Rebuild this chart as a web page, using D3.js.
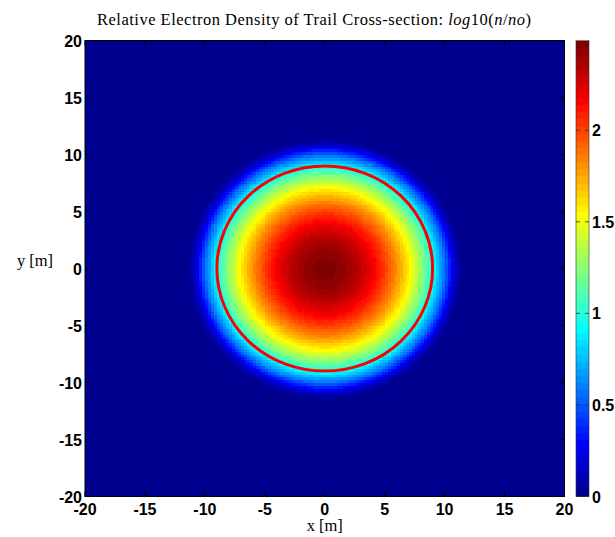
<!DOCTYPE html>
<html>
<head>
<meta charset="utf-8">
<script src="https://cdn.jsdelivr.net/npm/d3@7"></script>
<style>
  body { margin: 0; background: #fff; }
  svg { display: block; }
  .tick-label { font-family: "Liberation Sans", Arial, sans-serif; font-weight: bold; font-size: 16px; fill: #000; }
  .tex { font-family: "Liberation Serif", "DejaVu Serif", serif; font-size: 16.5px; fill: #000; }
</style>
</head>
<body>
<div id="chart"></div>
<script>
// radial profile of log10(n/no) across the trail (radius in m)
const profileRadius = [0, 1, 2, 3, 4, 5, 6, 7, 8, 9, 10, 10.5, 11, 11.5, 12];
const profileValue = [2.47, 2.45, 2.40, 2.31, 2.18, 2.01, 1.81, 1.57, 1.29, 0.95, 0.55, 0.31, 0.10, 0.02, 0];
const trailRadius = 9;          // red contour, m
const axisTicks = [-20, -15, -10, -5, 0, 5, 10, 15, 20];
const colorTicks = [0, 0.5, 1, 1.5, 2];
const colorLimits = [0, 2.49];
const gridStep = 0.25;

const width = 615, height = 537;
const plot = { left: 85, right: 564.5, top: 40.5, bottom: 496.5 };
const bar = { left: 576, right: 589 };

const svg = d3.select("#chart").append("svg")
    .attr("width", width)
    .attr("height", height);

const x = d3.scaleLinear().domain([-20, 20]).range([plot.left, plot.right]);
const y = d3.scaleLinear().domain([-20, 20]).range([plot.bottom, plot.top]);
const profile = d3.scaleLinear().domain(profileRadius).range(profileValue).clamp(true);

// MATLAB style jet(64)
const nColors = 64;
const clamp01 = v => Math.max(0, Math.min(1, v));
const jet = d3.range(nColors).map(i => {
    const t = (i + 1) / nColors;
    return d3.rgb(
        255 * clamp01(1.5 - Math.abs(4 * t - 3)),
        255 * clamp01(1.5 - Math.abs(4 * t - 2)),
        255 * clamp01(1.5 - Math.abs(4 * t - 1))
    ).formatHex();
});
const colorIndex = d3.scaleQuantize().domain(colorLimits).range(d3.range(nColors));
const color = v => jet[colorIndex(Math.max(colorLimits[0], Math.min(colorLimits[1] - 1e-9, v)))];

// grid of cells
const centers = d3.range(-20 + gridStep / 2, 20, gridStep);
const cells = [];
centers.forEach(cy => centers.forEach(cx => {
    cells.push({ cx, cy, v: profile(Math.hypot(cx, cy)) });
}));

const cw = x(gridStep) - x(0);
const ch = y(0) - y(gridStep);

svg.append("g")
    .attr("shape-rendering", "crispEdges")
    .selectAll("rect")
    .data(cells)
    .join("rect")
    .attr("x", d => x(d.cx - gridStep / 2))
    .attr("y", d => y(d.cy + gridStep / 2))
    .attr("width", cw + 0.6)
    .attr("height", ch + 0.6)
    .attr("fill", d => color(d.v));

// trail boundary
svg.append("ellipse")
    .attr("cx", x(0))
    .attr("cy", y(0))
    .attr("rx", x(trailRadius) - x(0))
    .attr("ry", y(0) - y(trailRadius))
    .attr("fill", "none")
    .attr("stroke", "#ff0000")
    .attr("stroke-width", 3);

// axes box and inner ticks
const frame = svg.append("g").attr("stroke", "#000").attr("stroke-width", 1).attr("fill", "none");
frame.append("rect")
    .attr("x", plot.left).attr("y", plot.top)
    .attr("width", plot.right - plot.left).attr("height", plot.bottom - plot.top);
axisTicks.forEach(t => {
    frame.append("line").attr("x1", x(t)).attr("x2", x(t)).attr("y1", plot.bottom).attr("y2", plot.bottom - 5);
    frame.append("line").attr("x1", x(t)).attr("x2", x(t)).attr("y1", plot.top).attr("y2", plot.top + 5);
    frame.append("line").attr("y1", y(t)).attr("y2", y(t)).attr("x1", plot.left).attr("x2", plot.left + 5);
    frame.append("line").attr("y1", y(t)).attr("y2", y(t)).attr("x1", plot.right).attr("x2", plot.right - 5);
});

svg.append("g").selectAll("text")
    .data(axisTicks)
    .join("text")
    .attr("class", "tick-label")
    .attr("x", d => x(d))
    .attr("y", plot.bottom + 18)
    .attr("text-anchor", "middle")
    .text(d => d);

svg.append("g").selectAll("text")
    .data(axisTicks)
    .join("text")
    .attr("class", "tick-label")
    .attr("x", plot.left - 3)
    .attr("y", d => y(d) + 6)
    .attr("text-anchor", "end")
    .text(d => d);

// colorbar
const cbar = d3.scaleLinear().domain(colorLimits).range([plot.bottom, plot.top]);
const levelStep = (colorLimits[1] - colorLimits[0]) / nColors;
svg.append("g")
    .attr("shape-rendering", "crispEdges")
    .selectAll("rect")
    .data(jet)
    .join("rect")
    .attr("x", bar.left)
    .attr("width", bar.right - bar.left)
    .attr("y", (d, i) => cbar(colorLimits[0] + (i + 1) * levelStep))
    .attr("height", cbar(0) - cbar(levelStep) + 0.5)
    .attr("fill", d => d);

svg.append("rect")
    .attr("x", bar.left).attr("y", plot.top)
    .attr("width", bar.right - bar.left).attr("height", plot.bottom - plot.top)
    .attr("fill", "none").attr("stroke", "#333").attr("stroke-width", 0.6);

const cticks = svg.append("g").attr("stroke", "#333").attr("stroke-width", 0.8);
colorTicks.forEach(t => {
    cticks.append("line").attr("x1", bar.left).attr("x2", bar.left + 4).attr("y1", cbar(t)).attr("y2", cbar(t));
    cticks.append("line").attr("x1", bar.right - 4).attr("x2", bar.right).attr("y1", cbar(t)).attr("y2", cbar(t));
});

svg.append("g").selectAll("text")
    .data(colorTicks)
    .join("text")
    .attr("class", "tick-label")
    .attr("x", bar.right + 3)
    .attr("y", d => cbar(d) + 6)
    .text(d => d);

// title and axis labels
const title = svg.append("text")
    .attr("class", "tex")
    .attr("x", 97)
    .attr("y", 25)
    .attr("textLength", 434)
    .attr("lengthAdjust", "spacing");
title.append("tspan").text("Relative Electron Density of Trail Cross-section: ");
title.append("tspan").attr("font-style", "italic").text("log");
title.append("tspan").text("10(");
title.append("tspan").attr("font-style", "italic").text("n");
title.append("tspan").text("/");
title.append("tspan").attr("font-style", "italic").text("no");
title.append("tspan").text(")");

svg.append("text")
    .attr("class", "tex")
    .attr("x", x(0))
    .attr("y", 531)
    .attr("text-anchor", "middle")
    .text("x [m]");

svg.append("text")
    .attr("class", "tex")
    .attr("x", 35)
    .attr("y", y(0) - 3)
    .attr("text-anchor", "middle")
    .text("y [m]");
</script>
</body>
</html>
